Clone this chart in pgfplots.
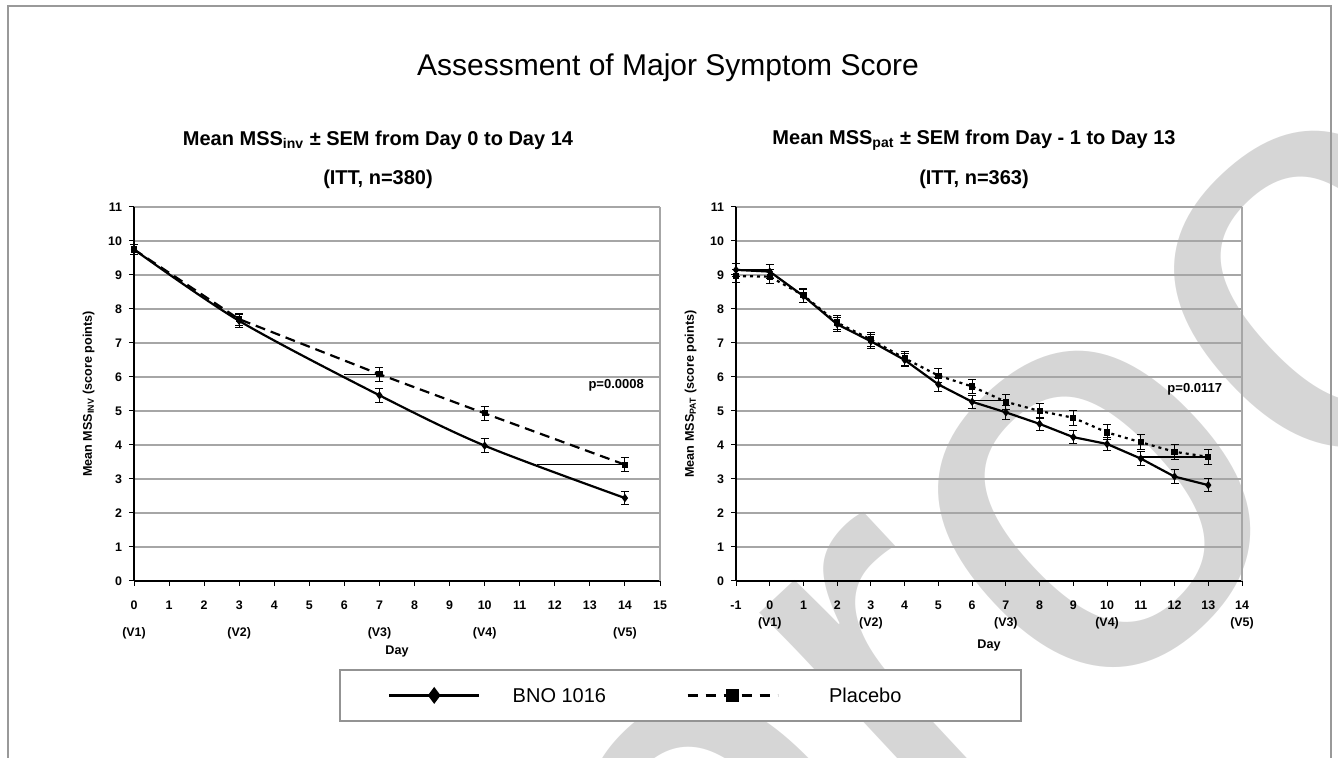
\documentclass[border=0pt]{standalone}
\usepackage{pgfplots}
\pgfplotsset{compat=1.18}
\usepackage{fontspec}
\setmainfont{Liberation Sans}

% 1 px of the reference = 0.5pt here
\pgfplotsset{
  mss/.style={
    scale only axis, anchor=south west,
    ymin=0, ymax=11, ytick={0,...,11},
    axis x line*=bottom, axis y line*=left,
    axis line style={black, line width=0.6pt},
    ymajorgrids, grid style={gray!70, line width=1.2pt},
    tick align=outside, major tick length=2.5pt,
    tick style={black, line width=0.5pt},
    tick label style={font=\bfseries\fontsize{6.2}{7.2}\selectfont},
    xticklabel style={align=center, yshift=-4pt},
    /pgf/number format/assume math mode=true,
    ylabel style={font=\bfseries\fontsize{6.3}{7}\selectfont},
    xlabel style={font=\bfseries\fontsize{6.3}{7}\selectfont,
      at={(axis description cs:0.5,0)}, anchor=center},
    clip=false,
  },
  bno/.style={black, line width=1.1pt, mark=diamond*, mark size=1.2pt,
    forget plot,
    error bars/.cd, y dir=both, y explicit,
    error bar style={line width=0.5pt, solid},
    error mark options={rotate=90, mark size=2pt, line width=0.5pt}},
  pla/.style={black, line width=1.1pt, mark=square*, mark size=1pt,
    mark options={solid}, forget plot,
    error bars/.cd, y dir=both, y explicit,
    error bar style={line width=0.5pt, solid},
    error mark options={rotate=90, mark size=2pt, line width=0.5pt}},
  hl/.style={black, line width=0.7pt, forget plot},
  legline/.style={legend image code/.code={%
    \draw[mark repeat=2, mark phase=2, ##1]
      plot coordinates {(0pt,0pt) (22.5pt,0pt) (45pt,0pt)};}},
}

\begin{document}
\begin{tikzpicture}
\useasboundingbox (0,0) rectangle (669pt,379pt);

% watermark
\node[rotate=43, anchor=base west, text=black!16, inner sep=0pt,
  font=\fontsize{290}{290}\selectfont] at (352pt,-163pt) {proof};

% frame
\draw[gray!80, line width=1pt] (4pt,-2pt) -- (4pt,376pt) -- (665.5pt,376pt) -- (665.5pt,-2pt);

\node[font=\fontsize{15}{18}\selectfont] at (334pt,345pt) {Assessment of Major Symptom Score};

\node[font=\bfseries\fontsize{10}{12}\selectfont] at (189pt,309pt) {Mean MSS\textsubscript{inv} ± SEM from Day 0 to Day 14};
\node[font=\bfseries\fontsize{10}{12}\selectfont] at (189pt,289.5pt) {(ITT, n=380)};
\node[font=\bfseries\fontsize{10}{12}\selectfont] at (487pt,309pt) {Mean MSS\textsubscript{pat} ± SEM from Day - 1 to Day 13};
\node[font=\bfseries\fontsize{10}{12}\selectfont] at (487pt,289.5pt) {(ITT, n=363)};

% left panel
\begin{axis}[mss, at={(67pt,88.5pt)}, width=263pt, height=187pt,
  xmin=0, xmax=15, xtick={0,...,15},
  xticklabels={{0\\[6.3pt](V1)},1,2,{3\\[6.3pt](V2)},4,5,6,{7\\[6.3pt](V3)},8,9,{10\\[6.3pt](V4)},11,12,13,{14\\[6.3pt](V5)},15},
  xlabel={Day}, xlabel style={yshift=-35pt},
  ylabel={Mean MSS\textsubscript{INV} (score points)},
  legend columns=2, legend cell align=left,
  legend style={at={(1.0391,-0.306)}, anchor=center,
    draw=gray!85, line width=1pt, inner xsep=24pt, inner ysep=9pt,
    nodes={inner sep=0pt, text depth=0pt, font=\fontsize{10}{12}\selectfont},
    /tikz/column 1/.style={column sep=16pt},
    /tikz/column 2/.style={column sep=40pt},
    /tikz/column 3/.style={column sep=25pt}},
]
\draw[gray!70, line width=1pt] (rel axis cs:1,0) -- (rel axis cs:1,1);
\addplot[hl] coordinates {(6,6.08) (7,6.08)};
\addplot[hl] coordinates {(11.5,3.42) (14,3.42)};
\addplot[dash pattern=on 5pt off 3pt, pla] coordinates {
  (0,9.75) +- (0,0.15)
  (3,7.70) +- (0,0.18)
  (7,6.08) +- (0,0.2)
  (10,4.93) +- (0,0.2)
  (14,3.42) +- (0,0.2)
};
\addplot[smooth, tension=0.5, bno] coordinates {
  (0,9.75) +- (0,0.15)
  (3,7.65) +- (0,0.18)
  (7,5.46) +- (0,0.2)
  (10,3.98) +- (0,0.2)
  (14,2.44) +- (0,0.2)
};
\node[font=\bfseries\fontsize{6.5}{7}\selectfont] at (axis cs:13.75,5.75) {p=0.0008};
\addlegendimage{legline, black, line width=1.5pt, mark=diamond*, mark size=3pt}
\addlegendentry{BNO 1016}
\addlegendimage{legline, black, line width=1.5pt, dash pattern=on 5pt off 4pt,
  mark=square*, mark size=2.4pt, mark options={solid}}
\addlegendentry{Placebo\hspace*{36pt}}
\end{axis}

% right panel
\begin{axis}[mss, at={(368pt,88.5pt)}, width=253pt, height=187pt,
  xmin=-1, xmax=14, xtick={-1,...,14},
  xticklabels={-1,{0\\[1.3pt](V1)},1,2,{3\\[1.3pt](V2)},4,5,6,{7\\[1.3pt](V3)},8,9,{10\\[1.3pt](V4)},11,12,13,{14\\[1.3pt](V5)}},
  xlabel={Day}, xlabel style={yshift=-32pt},
  ylabel={Mean MSS\textsubscript{PAT} (score points)},
]
\draw[gray!70, line width=1pt] (rel axis cs:1,0) -- (rel axis cs:1,1);
\addplot[hl] coordinates {(-1,9.15) (0,9.15)};
\addplot[hl] coordinates {(6,5.3) (7,5.3)};
\addplot[hl] coordinates {(11,3.65) (13,3.65)};
\addplot[dash pattern=on 1.5pt off 2pt, pla] coordinates {
  (-1,8.97) +- (0,0.2)
  (0,8.95) +- (0,0.2)
  (1,8.40) +- (0,0.2)
  (2,7.60) +- (0,0.2)
  (3,7.10) +- (0,0.2)
  (4,6.55) +- (0,0.2)
  (5,6.04) +- (0,0.2)
  (6,5.72) +- (0,0.22)
  (7,5.27) +- (0,0.22)
  (8,5.00) +- (0,0.22)
  (9,4.80) +- (0,0.22)
  (10,4.37) +- (0,0.22)
  (11,4.08) +- (0,0.22)
  (12,3.80) +- (0,0.22)
  (13,3.65) +- (0,0.22)
};
\addplot[bno] coordinates {
  (-1,9.15) +- (0,0.2)
  (0,9.10) +- (0,0.2)
  (1,8.38) +- (0,0.2)
  (2,7.55) +- (0,0.2)
  (3,7.05) +- (0,0.2)
  (4,6.50) +- (0,0.2)
  (5,5.78) +- (0,0.2)
  (6,5.27) +- (0,0.2)
  (7,4.96) +- (0,0.2)
  (8,4.62) +- (0,0.2)
  (9,4.23) +- (0,0.2)
  (10,4.03) +- (0,0.2)
  (11,3.60) +- (0,0.2)
  (12,3.07) +- (0,0.2)
  (13,2.82) +- (0,0.2)
};
\node[font=\bfseries\fontsize{6.5}{7}\selectfont] at (axis cs:12.6,5.65) {p=0.0117};
\end{axis}
\end{tikzpicture}
\end{document}
